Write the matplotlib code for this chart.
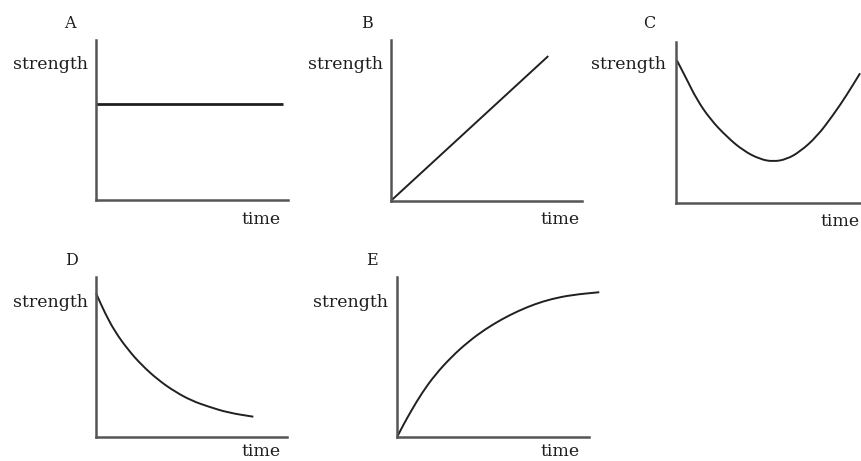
import matplotlib
matplotlib.use("Agg")
import matplotlib.pyplot as plt
from matplotlib.path import Path
from matplotlib.patches import PathPatch

# ---------------- data (arbitrary units 0..10) -------------
panel_letters = ["A", "B", "C", "D", "E"]
y_label = "strength"
x_label = "time"

a_time = [0.0, 9.71]
a_strength = [6.0, 6.0]

b_time = [0.0, 8.22]
b_strength = [0.0, 9.0]

c_time = [0.04, 0.58, 1.12, 1.84, 2.74, 3.64, 4.54, 5.26, 5.98, 6.70, 7.61, 8.50, 9.23, 9.95]
c_strength = [8.86, 7.66, 6.42, 5.20, 4.10, 3.23, 2.70, 2.55, 2.70, 3.17, 4.10, 5.45, 6.69, 8.04]

d_time = [0.02, 0.49, 1.01, 1.70, 2.40, 3.27, 4.15, 5.02, 5.89, 6.93, 8.24]
d_strength = [8.96, 7.71, 6.56, 5.42, 4.48, 3.54, 2.81, 2.25, 1.88, 1.50, 1.25]

e_time = [0.0, 0.31, 0.75, 1.27, 1.96, 2.83, 3.70, 4.57, 5.44, 6.30, 7.17, 8.04, 9.08, 10.52]
e_strength = [0.0, 0.73, 1.67, 2.71, 3.86, 5.0, 5.94, 6.71, 7.34, 7.86, 8.29, 8.61, 8.86, 9.03]

series = [(a_time, a_strength), (b_time, b_strength), (c_time, c_strength),
          (d_time, d_strength), (e_time, e_strength)]

# ---------------- layout (pixels of an 861x461 canvas) ------------------------------
W, H = 861, 461
# origin x, origin y (x-axis), right end of x-axis, top of y-axis
boxes = [(95.7, 200.0, 288.3, 40.0),
         (391.0, 200.7, 582.3, 40.0),
         (676.0, 202.7, 861.0, 41.7),
         (95.7, 436.7, 287.0, 276.7),
         (397.3, 436.7, 589.3, 276.7)]
line_widths = [2.0, 1.4, 1.4, 1.4, 1.4]
# letter (center x, baseline y)
letter_pos = [(70, 28.3), (367.3, 28.3), (649, 28.3), (71.5, 265), (371.7, 265)]
# strength label (right x, baseline y)
ylab_pos = [(88.3, 69), (383.3, 69), (666, 69), (88.3, 306.7), (388.3, 306.7)]
# time label (right x, baseline y)
xlab_pos = [(281, 224), (580, 224), (860, 226), (281, 456), (580, 456)]

FONT = ["DejaVu Serif"]
TXT = "#1e1e1e"
AXC = "#555555"
LINE = "#202020"

fig = plt.figure(figsize=(W / 100, H / 100), dpi=100)
fig.patch.set_facecolor("white")


def fx(px):
    return px / W


def fy(py):
    return 1 - py / H


def smooth_path(t, v):
    """Smooth rendering of the read points (quadratic Bezier via midpoints)."""
    pts = list(zip(t, v))
    if len(pts) < 3:
        return Path(pts)
    mid = lambda p, q: ((p[0] + q[0]) / 2, (p[1] + q[1]) / 2)
    verts = [pts[0], mid(pts[0], pts[1])]
    codes = [Path.MOVETO, Path.LINETO]
    for k in range(1, len(pts) - 1):
        verts += [pts[k], mid(pts[k], pts[k + 1])]
        codes += [Path.CURVE3, Path.CURVE3]
    verts.append(pts[-1])
    codes.append(Path.LINETO)
    return Path(verts, codes)


for i, (x0, y0, x1, y1) in enumerate(boxes):
    ax = fig.add_axes([fx(x0), fy(y0), (x1 - x0) / W, (y0 - y1) / H])
    ax.set_xlim(0, 10)
    ax.set_ylim(0, 10)
    ax.patch.set_alpha(0)
    for s in ("top", "right"):
        ax.spines[s].set_visible(False)
    for s in ("left", "bottom"):
        ax.spines[s].set_color(AXC)
        ax.spines[s].set_linewidth(1.8)
    ax.set_xticks([])
    ax.set_yticks([])
    t, v = series[i]
    patch = PathPatch(smooth_path(t, v), fill=False, edgecolor=LINE,
                      lw=line_widths[i], clip_on=False, capstyle="butt",
                      joinstyle="round")
    ax.add_patch(patch)

    lx, ly = letter_pos[i]
    fig.text(fx(lx), fy(ly), panel_letters[i], ha="center", va="baseline",
             fontsize=11.5, family=FONT, color=TXT)
    sx, sy = ylab_pos[i]
    fig.text(fx(sx), fy(sy), y_label, ha="right", va="baseline",
             fontsize=12.5, family=FONT, color=TXT)
    tx, ty = xlab_pos[i]
    fig.text(fx(tx), fy(ty), x_label, ha="right", va="baseline",
             fontsize=12.5, family=FONT, color=TXT)

fig.savefig("out.png", dpi=100, facecolor="white")
